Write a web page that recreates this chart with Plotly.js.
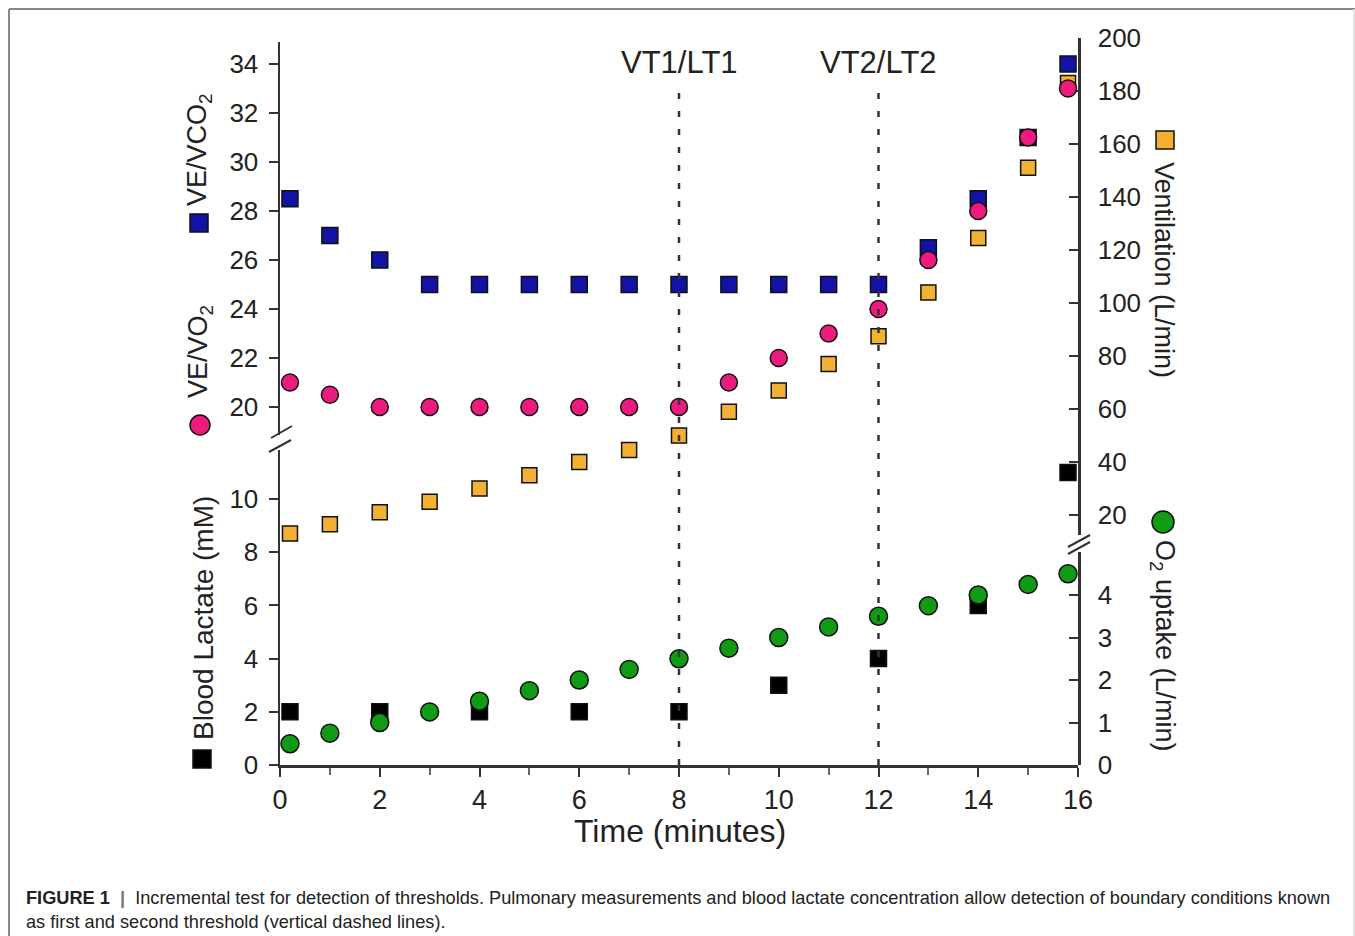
<!DOCTYPE html>
<html>
<head>
<meta charset="utf-8">
<script src="https://cdn.plot.ly/plotly-3.0.1.min.js"></script>
<style>html,body{margin:0;padding:0;background:#fff;}#chart{width:1355px;height:936px;}</style>
</head>
<body>
<div id="chart"></div>
<script>
// ---- Data ----
const time = [0.2, 1, 2, 3, 4, 5, 6, 7, 8, 9, 10, 11, 12, 13, 14, 15, 15.8];
const veVco2 = [28.5, 27, 26, 25, 25, 25, 25, 25, 25, 25, 25, 25, 25, 26.5, 28.5, 31, 34];
const veVo2 = [21, 20.5, 20, 20, 20, 20, 20, 20, 20, 21, 22, 23, 24, 26, 28, 31, 33];
const ventilation = [13, 16.5, 21, 25, 30, 35, 40, 44.5, 50, 59, 67, 77, 87.5, 104, 124.5, 151, 183];
const o2Uptake = [0.5, 0.75, 1, 1.25, 1.5, 1.75, 2, 2.25, 2.5, 2.75, 3, 3.25, 3.5, 3.75, 4, 4.25, 4.5];
const lactateTime = [0.2, 2, 4, 6, 8, 10, 12, 14, 15.8];
const lactate = [2, 2, 2, 2, 2, 3, 4, 6, 11];
const thresholds = [8, 12];
const thresholdLabels = ['VT1/LT1', 'VT2/LT2'];
const xTicks = [0, 2, 4, 6, 8, 10, 12, 14, 16];
const xMinorTicks = [1, 3, 5, 7, 9, 11, 13, 15];
const lactateTicks = [0, 2, 4, 6, 8, 10];
const ratioTicks = [20, 22, 24, 26, 28, 30, 32, 34];
const ventTicks = [20, 40, 60, 80, 100, 120, 140, 160, 180, 200];
const o2Ticks = [0, 1, 2, 3, 4];

// ---- Layout helpers (pixel -> paper) ----
const L = 280, R = 277, T = 38, B = 171;
const W = 1355 - L - R, H = 936 - T - B;
const PX = p => (p - L) / W;
const PY = p => (936 - B - p) / H;

const FONT = 'Liberation Sans, Arial, Helvetica, sans-serif';
const AX = '#333';
const tickFont = {family: FONT, size: 26, color: '#222'};

const baseY = {
  showgrid: false, zeroline: false, showline: true, linecolor: AX, linewidth: 2.5,
  ticklen: 9, tickwidth: 2, tickcolor: AX, tickfont: tickFont, anchor: 'x'
};

const mk = (sym, color, size) => ({symbol: sym, color: color, size: size, line: {color: '#111', width: 1.5}});

const traces = [
  {x: lactateTime, y: lactate, yaxis: 'y', type: 'scatter', mode: 'markers', cliponaxis: false,
   marker: mk('square', '#000000', 16), name: 'Blood Lactate'},
  {x: time, y: o2Uptake, yaxis: 'y2', type: 'scatter', mode: 'markers', cliponaxis: false,
   marker: mk('circle', '#119a14', 18), name: 'O2 uptake'},
  {x: time, y: ventilation, yaxis: 'y3', type: 'scatter', mode: 'markers', cliponaxis: false,
   marker: mk('square', '#f2b134', 15), name: 'Ventilation'},
  {x: time, y: veVco2, yaxis: 'y4', type: 'scatter', mode: 'markers', cliponaxis: false,
   marker: mk('square', '#1212a6', 16), name: 'VE/VCO2'},
  {x: time, y: veVo2, yaxis: 'y4', type: 'scatter', mode: 'markers', cliponaxis: false,
   marker: mk('circle', '#ee1a7e', 17), name: 'VE/VO2'}
];

const shapes = [];
// threshold dashed lines
thresholds.forEach(t => shapes.push({type: 'line', xref: 'x', yref: 'paper', x0: t, x1: t, y0: 0, y1: PY(85),
  line: {color: '#333', width: 2.5, dash: '6px,12px'}}));
// axis break marks
const seg = (x0, y0, x1, y1) => shapes.push({type: 'line', xref: 'paper', yref: 'paper',
  x0: PX(x0), y0: PY(y0), x1: PX(x1), y1: PY(y1), line: {color: AX, width: 2}});
seg(271, 438, 292, 426); seg(269, 452, 291, 440);
seg(1068, 547, 1090, 535); seg(1068, 554, 1090, 542);
// key glyphs next to axis titles
const glyph = (type, x0, y0, x1, y1, fill) => shapes.push({type: type, xref: 'paper', yref: 'paper',
  x0: PX(x0), x1: PX(x1), y0: PY(y1), y1: PY(y0), fillcolor: fill, line: {color: '#111', width: 1.5}});
glyph('rect', 190, 214, 208, 232, '#1212a6');
glyph('circle', 190, 415, 210, 435, '#ee1a7e');
glyph('rect', 193, 750, 211, 768, '#000000');
glyph('rect', 1156, 131, 1174, 149, '#f2b134');
glyph('circle', 1152, 511, 1174, 533, '#119a14');
// figure frame
shapes.push({type: 'line', xref: 'paper', yref: 'paper', x0: PX(9), x1: PX(9), y0: PY(9), y1: PY(950), line: {color: '#888', width: 2}});
shapes.push({type: 'line', xref: 'paper', yref: 'paper', x0: PX(9), x1: PX(1360), y0: PY(9), y1: PY(9), line: {color: '#888', width: 2}});
shapes.push({type: 'line', xref: 'paper', yref: 'paper', x0: PX(1354), x1: PX(1354), y0: PY(9), y1: PY(950), line: {color: '#ddd', width: 1.5}});

const ann = (text, x, y, angle, size, extra) => Object.assign({text: text, xref: 'paper', yref: 'paper',
  x: PX(x), y: PY(y), textangle: angle, showarrow: false, xanchor: 'center', yanchor: 'middle',
  font: {family: FONT, size: size, color: '#222'}}, extra || {});

const annotations = [
  ann('VE/VCO<sub>2</sub>', 199, 150, -90, 27),
  ann('VE/VO<sub>2</sub>', 200, 352, -90, 27),
  ann('Blood Lactate (mM)', 203, 618, -90, 28),
  ann('Ventilation (L/min)', 1164, 270, 90, 27),
  ann('O<sub>2</sub> uptake (L/min)', 1163, 646, 90, 27),
  ann('Time (minutes)', 680, 831, 0, 32),
  ann('<b>FIGURE 1</b>  <b style="color:#777">|</b>  Incremental test for detection of thresholds. Pulmonary measurements and blood lactate concentration allow detection of boundary conditions known',
      24, 898, 0, 18.2, {xanchor: 'left'}),
  ann('as first and second threshold (vertical dashed lines).', 24, 922, 0, 18.2, {xanchor: 'left'})
];
thresholds.forEach((t, i) => annotations.push({text: thresholdLabels[i], xref: 'x', yref: 'paper', x: t, y: PY(63),
  showarrow: false, xanchor: 'center', yanchor: 'middle', font: {family: FONT, size: 31, color: '#222'}}));

const layout = {
  width: 1355, height: 936,
  margin: {l: L, r: R, t: T, b: B, pad: 0},
  paper_bgcolor: '#ffffff', plot_bgcolor: 'rgba(0,0,0,0)',
  showlegend: false,
  xaxis: {domain: [0, 1], range: [0, 16], anchor: 'y', tickvals: xTicks, ticks: 'outside', ticklen: 9,
    tickwidth: 2, tickcolor: AX, showline: true, linecolor: AX, linewidth: 2.5, showgrid: false, zeroline: false,
    tickfont: {family: FONT, size: 27, color: '#222'}, ticklabelstandoff: 0,
    minor: {tickvals: xMinorTicks, ticks: 'outside', ticklen: 7, tickwidth: 2, tickcolor: '#666', showgrid: false}},
  yaxis: Object.assign({}, baseY, {domain: [0, PY(450)], range: [0, 315 / 26.6], tickvals: lactateTicks,
    side: 'left', ticks: 'outside', ticklabelstandoff: 5}),
  yaxis2: Object.assign({}, baseY, {domain: [0, PY(552)], range: [0, 213 / 42.5], tickvals: o2Ticks,
    side: 'right', ticks: 'inside', ticklabelstandoff: 12}),
  yaxis3: Object.assign({}, baseY, {domain: [PY(535), 1], range: [(568 - 535) / 2.65, 200], tickvals: ventTicks,
    side: 'right', ticks: 'inside', ticklabelstandoff: 12}),
  yaxis4: Object.assign({}, baseY, {domain: [PY(435), PY(42)], range: [20 - (435 - 407) / 24.5, 20 + (407 - 42) / 24.5],
    tickvals: ratioTicks, side: 'left', ticks: 'outside', ticklabelstandoff: 5}),
  shapes: shapes,
  annotations: annotations
};

Plotly.newPlot('chart', traces, layout, {displayModeBar: false, staticPlot: true});
</script>
</body>
</html>
